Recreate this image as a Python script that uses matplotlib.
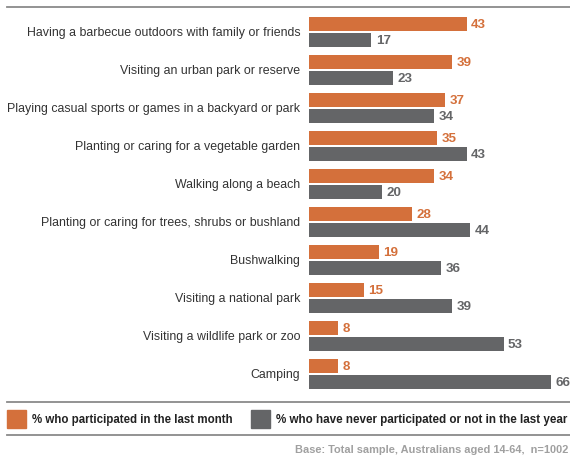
import numpy as np
import matplotlib.pyplot as plt
from matplotlib.patches import Rectangle

plt.rcParams['font.family'] = ['Liberation Sans', 'DejaVu Sans']

activities = [
    "Having a barbecue outdoors with family or friends",
    "Visiting an urban park or reserve",
    "Playing casual sports or games in a backyard or park",
    "Planting or caring for a vegetable garden",
    "Walking along a beach",
    "Planting or caring for trees, shrubs or bushland",
    "Bushwalking",
    "Visiting a national park",
    "Visiting a wildlife park or zoo",
    "Camping",
]
last_month = [43, 39, 37, 35, 34, 28, 19, 15, 8, 8]
never = [17, 23, 34, 43, 20, 44, 36, 39, 53, 66]

orange = "#D4703B"
grey = "#646567"
rule = "#8a8a8a"

W, H = 570, 456
fig = plt.figure(figsize=(W / 100, H / 100), dpi=100)

# bar area: left edge at x=309px, 3.67px per percentage point
ax = fig.add_axes([309 / W, (H - 403) / H, (W - 309) / W, 395 / H])
ax.set_xlim(0, (W - 309) / 3.67)
ax.set_ylim((403 - 33) / 38, (8 - 33) / 38)
ax.axis("off")

y = np.arange(len(activities))
bh = 14 / 38
off = 8 / 38
ax.barh(y - off, last_month, height=bh, color=orange)
ax.barh(y + off, never, height=bh, color=grey)

for i, (a, b) in enumerate(zip(last_month, never)):
    ax.text(a + 1.2, i - off, str(a), color=orange, fontsize=9.6, fontweight="bold",
            va="center", ha="left")
    ax.text(b + 1.2, i + off, str(b), color=grey, fontsize=9.6, fontweight="bold",
            va="center", ha="left")
    ax.text(-2.4, i, activities[i], color="#333333", fontsize=8.9,
            va="center", ha="right", clip_on=False)

# horizontal rules
for yy in (8, 403, 436):
    fig.add_artist(plt.Line2D([7 / W, 1], [1 - yy / H] * 2, color=rule, lw=1.3))

# legend
fig.add_artist(Rectangle((7 / W, 1 - 429 / H), 19 / W, 18 / H, color=orange))
fig.add_artist(Rectangle((251 / W, 1 - 429 / H), 19 / W, 18 / H, color=grey))
fig.text(32 / W, 1 - 420 / H, "% who participated in the last month", fontsize=8.3,
         fontweight="bold", color="#222222", va="center")
fig.text(276 / W, 1 - 420 / H, "% who have never participated or not in the last year",
         fontsize=8.4, fontweight="bold", color="#222222", va="center")

fig.text(568 / W, 1 - 450 / H, "Base: Total sample, Australians aged 14-64,  n=1002",
         fontsize=7.9, fontweight="bold", color="#a0a0a0", va="center", ha="right")

fig.savefig("out.png", dpi=100)
